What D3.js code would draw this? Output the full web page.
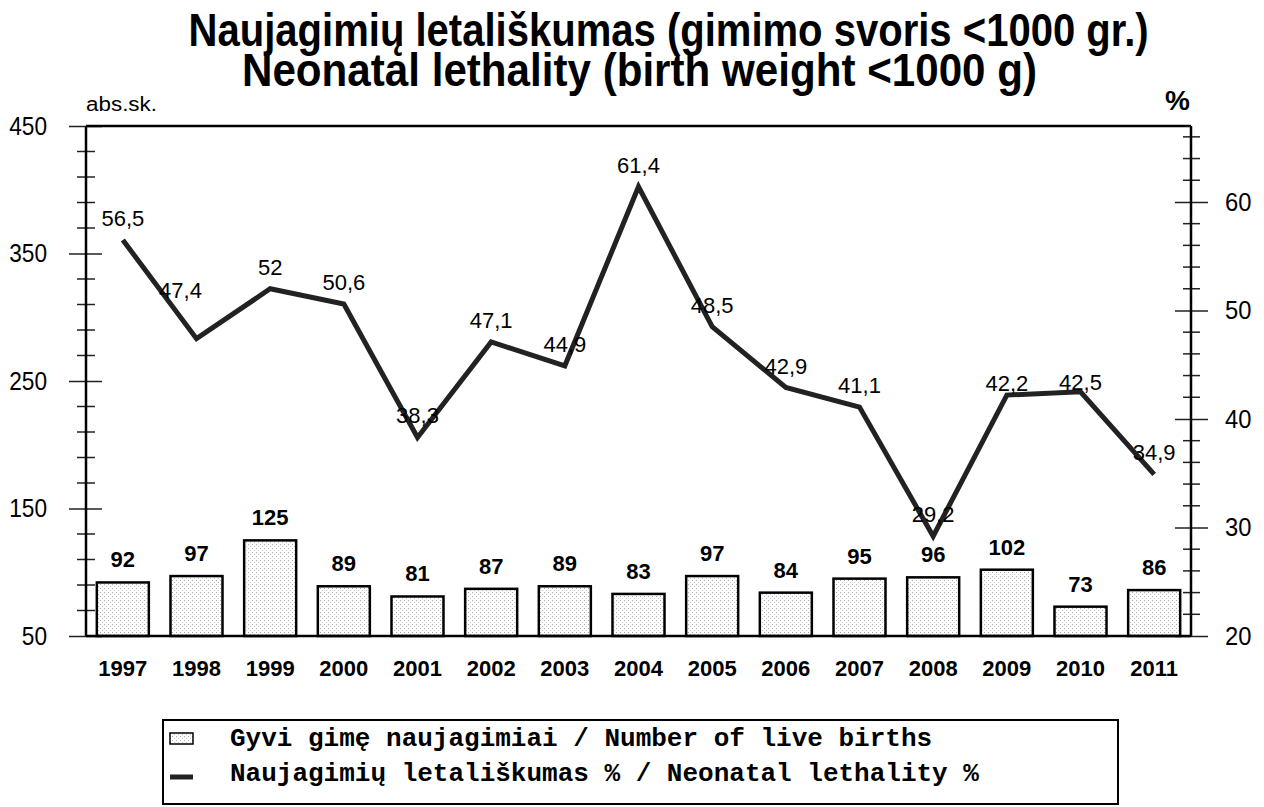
<!DOCTYPE html>
<html><head><meta charset="utf-8">
<script src="https://cdn.jsdelivr.net/npm/d3@7"></script>
<style>
body{margin:0;background:#fff}
text{font-family:Arial,"Liberation Sans",sans-serif;fill:#000}
</style>
</head><body><svg id="c" width="1264" height="807"></svg>
<script>
const years = ["1997","1998","1999","2000","2001","2002","2003","2004","2005","2006","2007","2008","2009","2010","2011"];
const births = [92,97,125,89,81,87,89,83,97,84,95,96,102,73,86];
const lethality = [56.5,47.4,52,50.6,38.3,47.1,44.9,61.4,48.5,42.9,41.1,29.2,42.2,42.5,34.9];
const leftTicks = [50,150,250,350,450];
const rightTicks = [20,30,40,50,60];
const titleLines = ["Naujagimių letališkumas (gimimo svoris <1000 gr.)","Neonatal lethality (birth weight <1000 g)"];
const leftUnit = "abs.sk.";
const rightUnit = "%";
const legendLabels = ["Gyvi gimę naujagimiai / Number of live births","Naujagimių letališkumas % / Neonatal lethality %"];

// label nudges (styling only, in px)
const labelNudgeX = [0,-16,0,0,0,0,0,0,0,0,0,0,0,0,0];
const labelNudgeY = [0,-27,0,0,0,0,0,0,0,0,0,0,10,12,0];

const svg = d3.select("#c");
const L = 86, R = 1191, T = 126, B = 636;

const x = d3.scaleBand().domain(years).range([L, R]).paddingInner(0.294).paddingOuter(0.147);
const yL = d3.scaleLinear().domain([50, 450]).range([B, T]);
const yR = d3.scaleLinear().domain([20, 67]).range([B, T]);

// pattern
const defs = svg.append("defs");
const pat = defs.append("pattern").attr("id","dots").attr("width",4).attr("height",4).attr("patternUnits","userSpaceOnUse");
pat.append("rect").attr("width",4).attr("height",4).attr("fill","#fff");
pat.append("rect").attr("x",0).attr("y",0).attr("width",1).attr("height",1).attr("fill","#a8a8a8");
pat.append("rect").attr("x",2).attr("y",2).attr("width",1).attr("height",1).attr("fill","#c4c4c4");

// title
const titleG = svg.append("g");
const titlePos = [{x:188.6,y:46,w:960},{x:242,y:86,w:795}];
titleLines.forEach((t,i)=>{
  titleG.append("text").attr("x",titlePos[i].x).attr("y",titlePos[i].y)
    .attr("font-size",47).attr("font-weight","bold")
    .attr("textLength",titlePos[i].w).attr("lengthAdjust","spacingAndGlyphs").text(t);
});

svg.append("text").attr("x",L).attr("y",111).attr("font-size",20)
  .attr("textLength",71).attr("lengthAdjust","spacingAndGlyphs").text(leftUnit);
svg.append("text").attr("x",1165).attr("y",110).attr("font-size",28).attr("font-weight","bold").text(rightUnit);

// bars
svg.append("g").selectAll("rect").data(births).join("rect")
  .attr("x",(d,i)=>x(years[i])).attr("width",x.bandwidth())
  .attr("y",d=>yL(d)).attr("height",d=>B-yL(d))
  .attr("fill","url(#dots)").attr("stroke","#000").attr("stroke-width",2.5);

svg.append("g").selectAll("text").data(births).join("text")
  .attr("x",(d,i)=>x(years[i])+x.bandwidth()/2).attr("y",d=>yL(d)-15)
  .attr("text-anchor","middle").attr("font-size",22).attr("font-weight","bold").text(d=>d);

// left axis
const minorL = d3.range(50, 451, 20).filter(v=>!leftTicks.includes(v));
const gL = svg.append("g").attr("transform",`translate(${L},0)`);
gL.selectAll("line.minor").data(minorL).join("line").attr("class","minor")
  .attr("x1",-9).attr("x2",9).attr("y1",d=>yL(d)).attr("y2",d=>yL(d)).attr("stroke","#222").attr("stroke-width",1.5);
const axL = d3.axisLeft(yL).tickValues(leftTicks).tickSize(17).tickPadding(22);
gL.call(axL);
gL.select(".domain").remove();
gL.selectAll(".tick line").attr("x1",16).attr("stroke","#222").attr("stroke-width",1.5);
gL.selectAll(".tick text").attr("font-size",26).attr("font-family","Arial, 'Liberation Sans', sans-serif")
  .attr("textLength",d=>String(d).length*12.6).attr("lengthAdjust","spacingAndGlyphs");
gL.append("line").attr("x1",0).attr("x2",0).attr("y1",T).attr("y2",B).attr("stroke","#000").attr("stroke-width",2.5);

// right axis
const minorR = d3.range(20, 67, 2).filter(v=>!rightTicks.includes(v));
const gR = svg.append("g").attr("transform",`translate(${R},0)`);
gR.selectAll("line.minor").data(minorR).join("line").attr("class","minor")
  .attr("x1",-8).attr("x2",9).attr("y1",d=>yR(d)).attr("y2",d=>yR(d)).attr("stroke","#222").attr("stroke-width",1.5);
const axR = d3.axisRight(yR).tickValues(rightTicks).tickSize(17).tickPadding(17);
gR.call(axR);
gR.select(".domain").remove();
gR.selectAll(".tick line").attr("x1",-16).attr("stroke","#222").attr("stroke-width",1.5);
gR.selectAll(".tick text").attr("font-size",26).attr("font-family","Arial, 'Liberation Sans', sans-serif")
  .attr("textLength",d=>String(d).length*13.2).attr("lengthAdjust","spacingAndGlyphs");
gR.append("line").attr("x1",0).attr("x2",0).attr("y1",T).attr("y2",B).attr("stroke","#000").attr("stroke-width",2.5);

// top frame and baseline
svg.append("line").attr("x1",L).attr("x2",R).attr("y1",T).attr("y2",T).attr("stroke","#000").attr("stroke-width",2.5);
svg.append("line").attr("x1",L).attr("x2",R).attr("y1",B).attr("y2",B).attr("stroke","#000").attr("stroke-width",2.5);

// x labels
const axB = d3.axisBottom(x).tickSize(0).tickPadding(24);
const gB = svg.append("g").attr("transform",`translate(0,${B})`).call(axB);
gB.select(".domain").remove();
gB.selectAll(".tick text").attr("font-size",22).attr("font-weight","bold").attr("font-family","Arial, 'Liberation Sans', sans-serif");

// line
const line = d3.line().x((d,i)=>x(years[i])+x.bandwidth()/2).y(d=>yR(d));
svg.append("path").datum(lethality).attr("d",line).attr("fill","none")
  .attr("stroke","#222").attr("stroke-width",5).attr("stroke-linejoin","miter");

const fmt = v => String(v).replace(".", ",");
svg.append("g").selectAll("text").data(lethality).join("text")
  .attr("x",(d,i)=>x(years[i])+x.bandwidth()/2+labelNudgeX[i]).attr("y",(d,i)=>yR(d)-14+labelNudgeY[i])
  .attr("text-anchor","middle").attr("font-size",22).text(fmt);

// legend
const lg = svg.append("g");
lg.append("rect").attr("x",163).attr("y",720).attr("width",955).attr("height",84)
  .attr("fill","none").attr("stroke","#000").attr("stroke-width",2);
lg.append("rect").attr("x",170).attr("y",733).attr("width",23).attr("height",11)
  .attr("fill","url(#dots)").attr("stroke","#000").attr("stroke-width",1.5);
lg.append("line").attr("x1",170).attr("x2",193).attr("y1",777).attr("y2",777)
  .attr("stroke","#222").attr("stroke-width",5);
legendLabels.forEach((t,i)=>{
  lg.append("text").attr("x",230).attr("y",746+i*35).attr("font-size",26).attr("font-weight","bold")
    .style("font-family","'Liberation Mono','Courier New',monospace").text(t);
});
</script></body></html>
